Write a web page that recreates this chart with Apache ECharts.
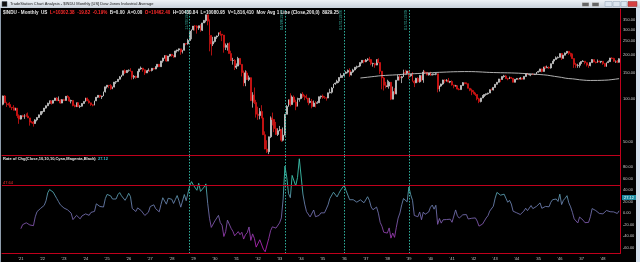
<!DOCTYPE html>
<html><head><meta charset="utf-8">
<script src="https://cdn.jsdelivr.net/npm/echarts@6/dist/echarts.min.js"></script>
<style>html,body{margin:0;padding:0;background:#000;}#c{width:640px;height:262px;}</style>
</head><body><div id="c"></div>
<script>
// Monthly $INDU, Mar 1920 .. Oct 1948
const startYear = 1920, startMonth = 3;
const firstOpen = 91.2;
const closes = [
/*1920*/ 104.2,93.5,91.8,90.8,86.9,86.2,82.9,85.7,76.0,72.0,
/*1921*/ 76.1,74.9,75.8,75.6,73.4,68.5,68.4,67.1,71.1,73.9,77.1,81.1,
/*1922*/ 81.3,85.8,89.1,92.8,96.4,92.9,97.0,100.8,96.6,97.2,93.0,98.2,
/*1923*/ 97.0,103.6,102.0,96.0,97.0,89.5,88.0,93.5,87.9,88.5,92.3,95.5,
/*1924*/ 100.7,96.3,93.3,90.6,89.9,96.4,102.1,105.2,103.0,104.1,111.4,120.5,
/*1925*/ 123.6,122.9,116.8,120.0,129.9,131.0,136.0,141.2,145.0,155.7,151.1,156.7,
/*1926*/ 157.0,154.7,140.5,142.4,139.9,154.0,160.4,162.5,158.2,150.4,155.5,157.2,
/*1927*/ 156.6,161.9,160.1,166.1,172.6,166.2,182.0,190.6,197.6,181.7,197.0,202.4,
/*1928*/ 198.6,194.0,213.5,216.9,220.9,210.4,216.0,240.4,239.4,252.2,293.4,300.0,
/*1929*/ 317.5,317.4,308.5,319.3,297.4,333.8,347.7,380.3,343.5,273.5,238.9,248.5,
/*1930*/ 267.1,271.1,286.1,279.2,275.1,226.3,233.5,240.4,204.9,183.4,183.4,164.6,
/*1931*/ 167.7,189.7,172.4,151.2,128.5,150.2,135.4,139.4,96.6,105.4,93.9,77.9,
/*1932*/ 76.2,81.4,73.3,56.1,44.7,42.8,54.3,73.2,71.6,61.9,56.4,59.9,
/*1933*/ 60.9,51.4,55.7,77.7,88.1,98.1,90.8,102.4,94.5,88.2,98.7,99.9,
/*1934*/ 107.2,103.5,101.9,100.7,94.0,95.7,88.1,93.0,92.6,93.5,102.9,104.0,
/*1935*/ 101.7,101.2,100.8,109.5,110.6,118.2,126.2,127.9,131.9,139.7,142.3,144.1,
/*1936*/ 149.5,152.5,156.3,145.7,152.6,157.7,164.9,166.3,167.8,177.4,183.9,179.9,
/*1937*/ 184.7,187.2,186.4,174.3,174.7,170.5,185.5,177.4,154.6,138.9,123.5,121.0,
/*1938*/ 121.9,129.6,99.0,111.7,107.7,133.9,141.3,139.3,141.4,151.7,149.8,155.0,
/*1939*/ 143.8,147.3,131.8,128.5,138.0,130.6,144.3,134.4,152.5,151.9,145.7,150.2,
/*1940*/ 145.3,146.5,147.5,148.4,116.2,121.9,126.1,134.4,132.6,133.6,130.0,131.1,
/*1941*/ 124.1,121.8,122.7,116.2,115.3,123.1,128.8,127.4,126.8,117.8,114.2,111.0,
/*1942*/ 109.1,106.6,99.5,95.4,100.9,103.3,106.5,107.9,109.1,115.0,114.5,119.4,
/*1943*/ 125.4,129.7,136.6,135.5,142.1,143.4,137.3,136.7,140.1,138.3,129.6,135.9,
/*1944*/ 137.4,136.3,138.8,136.2,142.2,148.4,146.1,146.7,146.7,146.5,147.3,152.3,
/*1945*/ 153.8,160.4,154.1,165.4,163.1,164.3,162.9,174.3,181.7,186.6,191.5,192.9,
/*1946*/ 204.7,190.1,199.6,206.8,212.3,205.6,201.6,189.2,172.4,169.2,169.8,177.2,
/*1947*/ 180.4,181.4,177.2,170.6,169.3,177.3,186.1,179.0,177.5,181.8,179.4,181.2,
/*1948*/ 175.1,167.3,177.2,180.1,190.7,189.5,181.3,181.7,178.3,188.6
];
const highs = [
/*1920*/ 104.8,105.6,94.8,93.2,94.5,87.3,89.9,86.4,86.0,77.6,
/*1921*/ 76.8,77.1,77.8,78.9,80.0,73.5,69.9,69.9,71.9,74.1,77.3,81.5,
/*1922*/ 82.0,86.0,89.5,93.5,96.8,96.4,97.4,101.0,102.1,103.4,98.8,99.2,
/*1923*/ 99.4,104.0,105.4,102.2,98.2,97.4,90.8,93.7,93.6,89.9,92.9,95.6,
/*1924*/ 101.3,101.3,98.9,93.6,91.2,96.6,102.3,105.6,105.4,104.3,111.6,120.6,
/*1925*/ 123.8,124.0,125.7,121.0,130.0,131.6,136.5,143.2,145.9,155.9,159.4,157.0,
/*1926*/ 159.1,162.3,154.9,145.6,143.9,154.2,160.6,166.6,162.9,158.4,156.4,161.9,
/*1927*/ 157.8,162.2,162.4,167.4,172.9,172.7,182.2,191.5,199.8,199.8,197.2,202.6,
/*1928*/ 203.4,199.4,214.5,217.8,222.0,220.9,217.6,240.6,241.7,259.2,295.6,300.2,
/*1929*/ 317.8,322.1,321.2,319.5,327.1,334.0,350.0,380.5,381.2,352.9,275.0,267.6,
/*1930*/ 267.3,273.0,286.3,294.1,280.0,275.5,240.8,242.8,245.1,214.2,191.3,187.6,
/*1931*/ 175.0,194.4,189.9,172.9,156.2,156.9,155.3,144.2,140.1,110.6,119.2,97.9,
/*1932*/ 87.8,85.9,89.9,73.5,59.2,51.4,54.5,75.2,79.9,71.8,68.9,62.2,
/*1933*/ 64.6,61.4,63.0,77.9,90.0,98.5,108.7,105.0,105.1,98.1,101.3,100.4,
/*1934*/ 108.4,110.7,106.0,106.6,100.9,101.1,99.3,96.9,96.0,95.9,103.1,104.6,
/*1935*/ 106.7,104.0,101.5,109.7,116.8,120.2,126.4,129.0,134.9,140.5,149.4,144.4,
/*1936*/ 149.7,154.4,158.8,161.9,153.1,160.7,165.1,169.0,168.3,177.6,184.9,184.0,
/*1937*/ 187.9,190.3,194.4,187.6,177.0,176.9,187.0,190.0,177.6,154.8,141.2,130.5,
/*1938*/ 134.9,132.6,129.8,121.0,118.0,134.0,146.1,145.7,143.5,158.4,158.1,155.4,
/*1939*/ 155.5,147.5,152.3,134.0,139.1,140.5,145.7,144.5,157.8,155.9,152.6,150.4,
/*1940*/ 153.3,149.4,148.5,151.3,148.6,123.0,126.8,135.0,135.6,136.2,138.8,132.5,
/*1941*/ 133.6,124.5,124.3,122.9,117.9,123.9,130.1,129.1,129.3,126.9,117.9,117.0,
/*1942*/ 114.2,109.5,106.8,101.2,101.0,105.8,107.0,108.1,109.6,116.0,117.3,119.7,
/*1943*/ 125.6,130.0,136.8,136.8,142.3,145.8,145.8,139.0,141.8,140.9,138.6,136.0,
/*1944*/ 138.8,137.6,141.0,139.0,142.4,149.0,150.5,148.6,147.0,149.2,148.0,152.5,
/*1945*/ 155.9,160.6,161.2,165.6,168.3,169.1,167.0,174.5,182.1,187.1,195.8,195.8,
/*1946*/ 204.9,206.6,200.6,208.3,212.5,212.3,207.6,205.0,189.4,176.6,174.1,177.4,
/*1947*/ 180.6,184.5,181.6,177.4,171.8,177.5,187.7,186.3,180.3,186.4,183.2,181.4,
/*1948*/ 181.4,175.3,177.4,183.8,191.1,193.2,191.6,183.6,184.9,190.0
];
const lows = [
/*1920*/ 89.7,93.2,87.4,89.3,86.8,83.2,82.8,82.5,73.1,66.8,
/*1921*/ 71.5,74.3,72.3,75.0,73.2,64.9,67.3,63.9,66.8,69.5,73.4,77.0,
/*1922*/ 78.6,81.0,85.2,88.6,91.4,90.7,92.2,96.4,96.3,96.1,92.0,92.8,
/*1923*/ 96.0,96.7,101.5,95.0,92.5,88.4,86.9,87.2,87.6,85.8,88.0,92.0,
/*1924*/ 94.9,96.0,92.3,89.0,88.3,89.7,96.0,101.1,100.8,99.2,103.9,110.0,
/*1925*/ 117.3,118.0,115.0,116.0,119.5,126.0,130.8,135.5,140.7,144.8,148.2,150.6,
/*1926*/ 153.2,153.2,135.2,136.2,137.2,139.5,152.3,158.0,153.3,145.7,150.1,154.6,
/*1927*/ 152.7,154.0,158.2,159.6,164.6,165.7,166.0,177.1,188.6,179.8,181.5,194.4,
/*1928*/ 194.5,191.3,193.5,207.9,211.7,201.0,205.1,214.8,233.6,236.0,252.0,257.3,
/*1929*/ 296.0,295.9,281.5,298.9,290.0,293.4,333.5,337.0,321.5,212.3,198.7,230.9,
/*1930*/ 244.2,259.0,270.2,272.2,249.8,207.7,217.0,214.8,204.9,183.4,171.6,157.5,
/*1931*/ 160.0,167.0,172.4,142.2,121.7,121.7,134.4,132.0,96.6,86.5,91.5,73.8,
/*1932*/ 71.2,71.8,73.0,55.9,44.5,41.9,41.2,53.2,65.1,58.5,56.0,55.0,
/*1933*/ 59.4,50.2,50.5,55.7,77.7,88.0,88.4,90.8,94.0,83.0,88.2,95.0,
/*1934*/ 98.8,101.0,97.4,99.0,89.9,92.6,85.5,88.0,86.7,92.3,93.3,99.6,
/*1935*/ 99.5,99.4,96.7,100.5,108.6,108.2,118.0,124.5,127.4,128.1,139.0,138.9,
/*1936*/ 143.1,148.0,149.6,141.5,144.5,150.5,156.5,160.5,165.0,167.6,174.7,175.3,
/*1937*/ 178.5,182.0,179.4,170.0,166.2,163.3,170.0,176.0,148.1,115.8,113.6,117.7,
/*1938*/ 120.0,117.1,97.5,98.9,106.4,107.0,133.9,133.4,127.9,141.2,145.2,146.4,
/*1939*/ 136.1,141.6,130.9,120.0,128.0,128.9,128.7,131.3,128.6,147.9,144.9,144.2,
/*1940*/ 143.5,144.7,145.2,145.0,110.4,111.8,120.4,124.3,127.8,131.0,129.5,127.8,
/*1941*/ 123.0,117.7,121.3,115.5,114.0,115.3,122.9,125.4,125.3,117.8,112.4,105.5,
/*1942*/ 107.0,104.0,97.2,92.9,94.0,100.5,103.3,104.4,106.3,109.1,113.6,113.9,
/*1943*/ 119.3,125.0,129.0,129.8,135.0,139.3,136.6,133.9,136.5,137.0,129.6,129.5,
/*1944*/ 134.8,134.2,135.5,134.8,136.0,141.6,145.4,144.5,142.8,145.8,145.6,146.8,
/*1945*/ 151.3,153.6,151.7,153.8,160.7,162.8,160.5,161.0,174.0,181.5,186.4,189.1,
/*1946*/ 192.5,184.9,188.5,199.2,203.6,200.5,195.2,187.5,163.1,163.1,163.3,163.6,
/*1947*/ 173.6,179.0,172.6,166.7,163.2,167.0,177.1,178.5,175.2,177.3,178.0,175.7,
/*1948*/ 171.2,165.7,165.4,176.8,180.0,186.9,179.6,176.6,175.9,177.4
];
const priceTicks = [50, 100, 150, 200, 250, 300, 350];
const rocTicks = [-60, -40, -20, 0, 20, 40, 60, 80];
const signalMonths = ['1928-11', '1933-04', '1936-01', '1939-01'];
const signalLabels = ['11/30/1928', '04/28/1933', '01/31/1936', '01/31/1939'];
const rocLevel = 47.64;
const rocLast = 27.12;
const rocLen = 10, maLen = 200;

const months = closes.map((_, i) => {
  const m = startMonth - 1 + i;
  return (startYear + Math.floor(m / 12)) + '-' + String(m % 12 + 1).padStart(2, '0');
});
const candles = closes.map((c, i) => [i === 0 ? firstOpen : closes[i - 1], c, lows[i], highs[i]]);
const roc = closes.map((c, i) => i >= rocLen ? +((c / closes[i - rocLen] - 1) * 100).toFixed(2) : null);
const ma = closes.map((c, i) => {
  if (i < maLen - 1) return null;
  let s = 0; for (let k = i - maLen + 1; k <= i; k++) s += closes[k];
  return +(s / maLen).toFixed(2);
});

const FONT = 'Liberation Sans';
const RED = '#c0001c';
const TEAL = '#2fae9c';
const HIDDEN = {color: 'rgba(0,0,0,0)', width: 0};
const chart = echarts.init(document.getElementById('c'), null, {renderer: 'canvas'});
chart.setOption({
  backgroundColor: '#000000',
  animation: false,
  textStyle: {fontFamily: FONT},
  title: [
    {left: 3, top: 10, padding: 0,
     text: '{w|$INDU - Monthly  US  }{r|L=10302.38  -19.82  -0.19%}{w|  B=0.00  A=0.00  }{r|O=10462.40}{w|  H=10430.84  L=10080.95  V=1,816,410  Mov Avg 1 Line (Close,200,0)  8929.25}',
     textStyle: {fontSize: 4.6, rich: {w: {color: '#e6e6e6', fontSize: 4.6, fontFamily: FONT}, r: {color: '#ff2a2a', fontSize: 4.6, fontFamily: FONT}}}},
    {left: 3, top: 157, padding: 0,
     text: '{w|Rate of Chg(Close,10,10,10,Cyan,Magenta,Black)  }{c|27.12}',
     textStyle: {fontSize: 4, rich: {w: {color: '#e6e6e6', fontSize: 4, fontFamily: FONT}, c: {color: '#3cc0d8', fontSize: 4, fontFamily: FONT}}}}
  ],
  grid: [
    {left: 2, right: 20, top: 9, height: 146.5},
    {left: 2, right: 20, top: 155.5, height: 98}
  ],
  xAxis: [
    {type: 'category', gridIndex: 0, data: months, boundaryGap: true, z: 10,
     axisLine: {show: true, onZero: false, lineStyle: {color: RED, width: 1, opacity: 1}}, axisTick: {show: false},
     axisLabel: {show: false}, splitLine: {show: false}},
    {type: 'category', gridIndex: 1, data: months, boundaryGap: true, z: 10,
     axisLine: {show: true, onZero: false, lineStyle: {color: RED, width: 1, opacity: 1}}, axisTick: {show: false},
     splitLine: {show: false},
     axisLabel: {interval: (i, v) => v.endsWith('-01'), formatter: v => "'" + v.slice(2, 4),
                 color: '#c8c8c8', fontSize: 4, margin: 3.5, fontFamily: FONT}}
  ],
  yAxis: [
    {type: 'log', gridIndex: 0, position: 'right', min: 40.3, max: 417, logBase: 10,
     axisLine: {show: true, lineStyle: {color: RED, width: 1}}, axisTick: {show: false},
     axisLabel: {show: false}, splitLine: {show: false}},
    {type: 'value', gridIndex: 1, position: 'right', min: -70, max: 100,
     axisLine: {show: true, lineStyle: {color: RED, width: 1}}, axisTick: {show: false},
     splitLine: {show: false},
     axisLabel: {customValues: rocTicks, formatter: v => v.toFixed(2), color: '#c8c8c8', fontSize: 4, margin: 3, fontFamily: FONT}}
  ],
  visualMap: [{
    type: 'continuous', show: false, seriesIndex: 2, min: -60, max: 50,
    inRange: {color: ['#b41eb4', '#8a40a8', '#7066a8', '#6484aa', '#3cc2ac']}
  }],
  series: [
    {type: 'candlestick', xAxisIndex: 0, yAxisIndex: 0, data: candles, barWidth: 1.4,
     itemStyle: {color: '#ffffff', color0: '#d81414', borderColor: '#c4c4c4', borderColor0: '#d81414', borderWidth: 0.8},
     markLine: {silent: true, symbol: 'none', animation: false,
       data: signalMonths.map((m, k) => ({xAxis: m,
         lineStyle: {color: TEAL, type: [1.5, 1.5], width: 1},
         label: {show: true, position: 'insideEndTop', formatter: signalLabels[k], color: '#36b8a8', fontSize: 4, fontFamily: FONT, distance: 1}}))}},
    {type: 'line', xAxisIndex: 0, yAxisIndex: 0, data: ma, symbol: 'none', showSymbol: false,
     lineStyle: {color: '#c4c4c4', width: 0.9}, itemStyle: {color: '#c4c4c4'},
     markLine: {silent: true, symbol: 'none', animation: false,
       data: priceTicks.map(v => ({yAxis: v, lineStyle: HIDDEN,
         label: {show: true, position: 'end', distance: 3, color: '#c8c8c8', fontSize: 4, fontFamily: FONT,
                 formatter: v.toFixed(2)}}))}},
    {type: 'line', xAxisIndex: 1, yAxisIndex: 1, data: roc, symbol: 'none', showSymbol: false,
     lineStyle: {width: 0.9}},
    {type: 'line', xAxisIndex: 1, yAxisIndex: 1, data: months.map(() => null), symbol: 'none',
     markLine: {silent: true, symbol: 'none', animation: false,
       data: [
         ...signalMonths.map(m => ({xAxis: m, lineStyle: {color: TEAL, type: [1.5, 1.5], width: 1}, label: {show: false}})),
         {yAxis: rocLevel, lineStyle: {color: RED, type: 'solid', width: 1.2, opacity: 1},
          label: {show: true, position: 'insideStartTop', formatter: String(rocLevel), color: '#ff3030', fontSize: 4, fontFamily: FONT, distance: 1}},
         {yAxis: rocLast, lineStyle: HIDDEN,
          label: {show: true, position: 'end', distance: 2, formatter: String(rocLast), color: '#e8ffff',
                  backgroundColor: '#1f8aa0', padding: [1, 2, 0, 2], fontSize: 4, fontFamily: FONT}}
       ]}}
  ],
  graphic: [
    {type: 'rect', shape: {x: 0, y: 0, width: 640, height: 8}, z: 100,
     style: {fill: new echarts.graphic.LinearGradient(0, 0, 0, 1, [{offset: 0, color: '#eef2f6'}, {offset: 1, color: '#c9d2dc'}])}},
    {type: 'rect', shape: {x: 2, y: 1.5, width: 5, height: 5}, z: 101, style: {fill: '#111', stroke: '#4a5a6a', lineWidth: 0.5}},
    {type: 'text', x: 10, y: 4, z: 101, style: {text: 'TradeStation Chart Analysis - $INDU Monthly [US] Dow Jones Industrial Average',
      fill: '#222', font: '4px "Liberation Sans"', verticalAlign: 'middle'}},
    {type: 'rect', shape: {x: 582, y: 2.5, width: 7, height: 4}, z: 101, style: {fill: '#666', stroke: '#ddd', lineWidth: 0.5}},
    {type: 'rect', shape: {x: 592, y: 2.5, width: 7, height: 4}, z: 101, style: {fill: '#666', stroke: '#ddd', lineWidth: 0.5}},
    {type: 'rect', shape: {x: 605, y: 1.5, width: 7, height: 5}, z: 101, style: {fill: '#dce5ef', stroke: '#8ea0b4', lineWidth: 0.5}},
    {type: 'rect', shape: {x: 613, y: 1.5, width: 7, height: 5}, z: 101, style: {fill: '#dce5ef', stroke: '#8ea0b4', lineWidth: 0.5}},
    {type: 'rect', shape: {x: 621, y: 1.5, width: 6, height: 5}, z: 101, style: {fill: '#dce5ef', stroke: '#8ea0b4', lineWidth: 0.5}},
    {type: 'rect', shape: {x: 628, y: 1.5, width: 9, height: 5}, z: 101, style: {fill: '#d64040', stroke: '#903030', lineWidth: 0.5}},
    {type: 'rect', shape: {x: 636, y: 8, width: 4, height: 254}, z: 100, style: {fill: '#d4e0ec'}},
    {type: 'rect', shape: {x: 0, y: 8, width: 1, height: 254}, z: 100, style: {fill: '#8e9cac'}}
  ]
});
</script></body></html>
